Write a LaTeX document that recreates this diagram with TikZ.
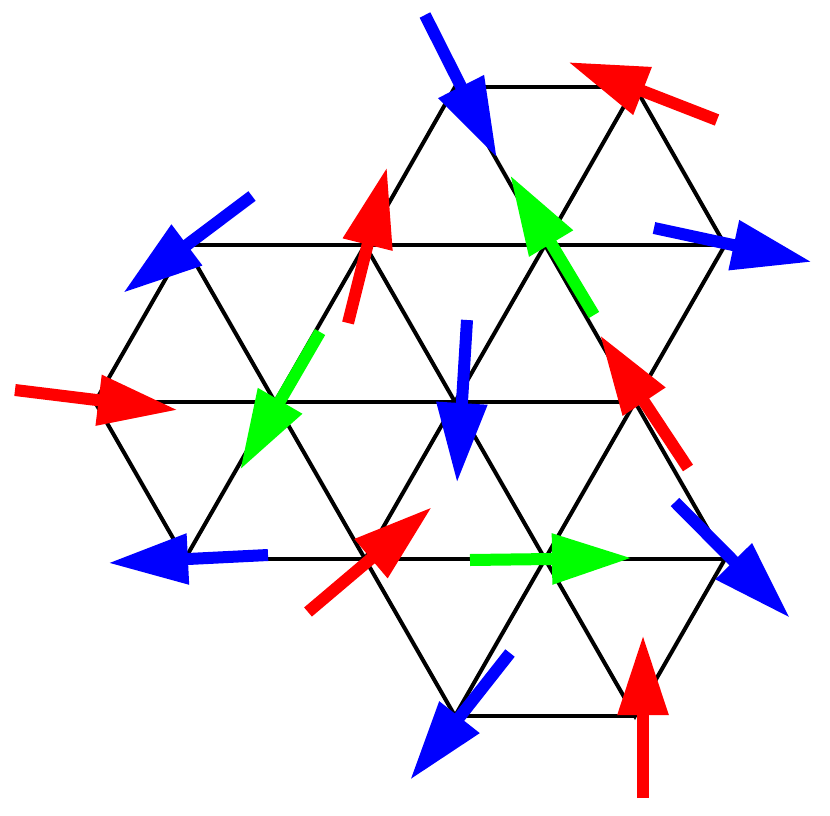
\documentclass[tikz,border=0pt]{standalone}
\usetikzlibrary{arrows.meta}
\begin{document}
\begin{tikzpicture}[x=1pt,y=-1pt,
  edge/.style={line width=4pt,black},
  spin/.style={line width=12pt,-{Triangle[length=80pt,width=48pt]}},
  sr/.style={spin,red}, sb/.style={spin,blue}, sg/.style={spin,green}]
\useasboundingbox (0,0) rectangle (830,816);
% lattice vertices
\coordinate (a1) at (455,87); \coordinate (a2) at (635,87);
\coordinate (b1) at (185,245); \coordinate (b2) at (365,245); \coordinate (b3) at (545,245); \coordinate (b4) at (725,245);
\coordinate (c1) at (95,402); \coordinate (c2) at (275,402); \coordinate (c3) at (455,402); \coordinate (c4) at (635,402);
\coordinate (d1) at (185,559); \coordinate (d2) at (365,559); \coordinate (d3) at (545,559); \coordinate (d4) at (725,559);
\coordinate (e1) at (455,716); \coordinate (e2) at (635,716);
\draw[edge] (a1)--(a2) (b1)--(b4) (c1)--(c4) (d1)--(d4) (e1)--(e2);
\draw[edge] (b2)--(a1)--(b3)--(a2)--(b4);
\draw[edge] (b1)--(c1)--(d1) (b1)--(c2)--(d1) (b2)--(c2)--(d2) (b2)--(c3)--(d2)
  (b3)--(c3)--(d3) (b3)--(c4)--(d3) (b4)--(c4)--(d4);
\draw[edge] (d2)--(e1)--(d3)--(e2)--(d4);
% spins
\coordinate (t1) at (425,15);  \coordinate (h1) at (497,158);
\coordinate (t2) at (717,120); \coordinate (h2) at (568,62);
\coordinate (t3) at (252,196); \coordinate (h3) at (123,293);
\coordinate (t4) at (348,323); \coordinate (h4) at (387,167);
\coordinate (t5) at (594,315); \coordinate (h5) at (510,175);
\coordinate (t6) at (654,228); \coordinate (h6) at (812,262);
\coordinate (t7) at (320,332); \coordinate (h7) at (240,470);
\coordinate (t8) at (15,390);  \coordinate (h8) at (178,410);
\coordinate (t9) at (467,320); \coordinate (h9) at (457,483);
\coordinate (t10) at (688,468); \coordinate (h10) at (600,335);
\coordinate (t11) at (268,555); \coordinate (h11) at (108,563);
\coordinate (t12) at (308,612); \coordinate (h12) at (432,507);
\coordinate (t13) at (470,560); \coordinate (h13) at (632,558);
\coordinate (t14) at (675,502); \coordinate (h14) at (790,618);
\coordinate (t15) at (510,653); \coordinate (h15) at (410,780);
\coordinate (t16) at (643,798); \coordinate (h16) at (643,635);
\draw[sb] (t1)--(h1); \draw[sr] (t2)--(h2); \draw[sb] (t3)--(h3);
\draw[sr] (t4)--(h4); \draw[sg] (t5)--(h5); \draw[sb] (t6)--(h6);
\draw[sg] (t7)--(h7); \draw[sr] (t8)--(h8); \draw[sb] (t9)--(h9);
\draw[sr] (t10)--(h10); \draw[sb] (t11)--(h11); \draw[sr] (t12)--(h12);
\draw[sg] (t13)--(h13); \draw[sb] (t14)--(h14); \draw[sb] (t15)--(h15);
\draw[sr] (t16)--(h16);
\end{tikzpicture}
\end{document}
